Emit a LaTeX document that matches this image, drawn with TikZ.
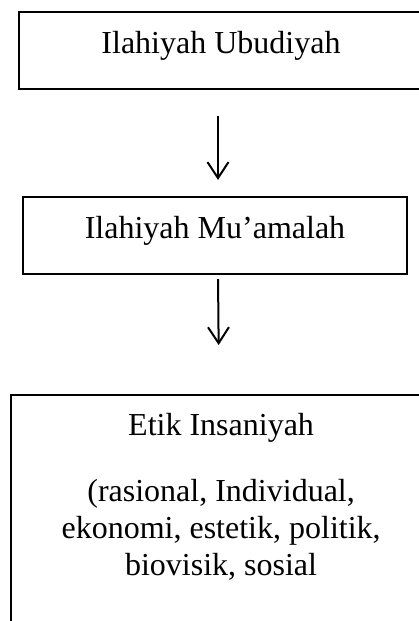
\documentclass[tikz,border=0pt]{standalone}
\usepackage{fontspec}
\setmainfont{Liberation Serif}
\usepackage{tikz}
\usetikzlibrary{arrows.meta,shapes}
\tikzstyle{level}=[draw,rectangle,line width=2.2pt,inner sep=0pt,font=\fontsize{32}{37}\selectfont]
\tikzstyle{single level}=[level,text height=41pt,text depth=36pt,anchor=base]
\tikzstyle{flow}=[draw,line width=2pt,-{Straight Barb[length=16pt,width=21pt]}]

\begin{document}
\begin{tikzpicture}[x=1pt,y=-1pt]
    \clip (0,0) rectangle (419,621);
    % First we draw the three levels
    \node[single level,minimum width=404pt] (ubudiyah) at (221,53) {Ilahiyah Ubudiyah};
    \node[single level,minimum width=384pt] (muamalah) at (215,238) {Ilahiyah Mu’amalah};
    \node[level,minimum width=420pt,inner ysep=18pt,align=center,anchor=north west] (insaniyah) at (10,394)
        {Etik Insaniyah\\[29pt] (rasional, Individual,\\ ekonomi, estetik, politik,\\ biovisik, sosial\rule[-60pt]{0pt}{0pt}};

    % Connect levels with arrows
    \path[flow,shorten <=26pt,shorten >=16pt] ([xshift=-3pt]ubudiyah.south) -- ([xshift=3pt]muamalah.north);
    \path[flow,shorten <=4pt,shorten >=49pt] ([xshift=3pt]muamalah.south) -- ([xshift=-2pt]insaniyah.north);
\end{tikzpicture}
\end{document}
